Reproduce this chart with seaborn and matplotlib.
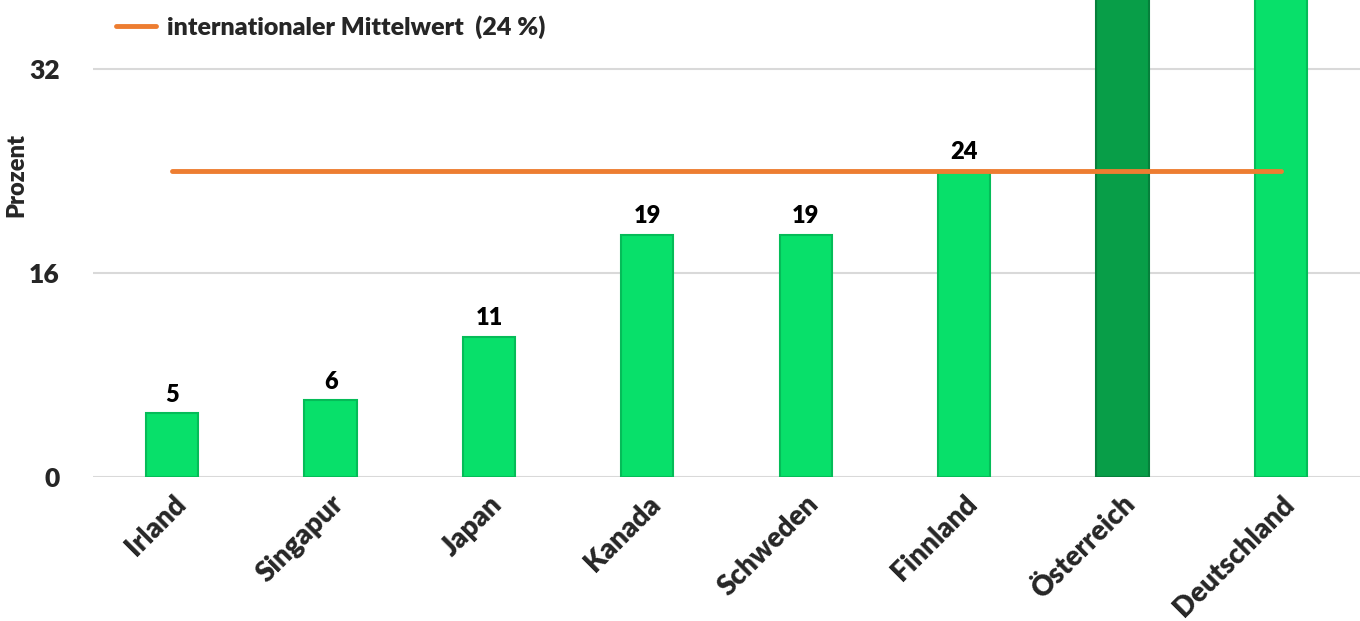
import numpy as np
import pandas as pd
import seaborn as sns
import matplotlib.pyplot as plt

# data
countries = ["Irland", "Singapur", "Japan", "Kanada", "Schweden", "Finnland", "Österreich", "Deutschland"]
values = [5, 6, 11, 19, 19, 24, 44, 47]   # last two run off the top of the chart
mean_value = 24
mean_label = "internationaler Mittelwert  (24 %)"
yticks = [0, 16, 32]

df = pd.DataFrame({"land": countries, "prozent": values})

sns.set_theme(style="white")
plt.rcParams["font.family"] = ["Lato", "DejaVu Sans"]
plt.rcParams["font.weight"] = "heavy"

fig = plt.figure(figsize=(13.6, 6.21), dpi=100)
ax = fig.add_axes([0.0684, 0.2319, 0.9316, 0.7681])

palette = ["#089E48" if c == "Österreich" else "#08E06A" for c in countries]
sns.barplot(data=df, x="land", y="prozent", hue="land", palette=palette,
            saturation=1, legend=False, width=0.33, edgecolor="#05BC58",
            linewidth=1.5, ax=ax, zorder=2)

for patch, c in zip(ax.patches, countries):
    if c == "Österreich":
        patch.set_edgecolor("#06803B")

ymax = 37.4
ax.set_ylim(0, ymax)
ax.set_xlim(-0.5, len(countries) - 0.5)

# value labels for visible bars
for i, v in enumerate(values):
    if v < ymax - 2:
        ax.text(i, v + 0.6, str(v), ha="center", va="bottom",
                fontsize=17, fontweight="heavy", color="black")

# international mean line
xs = np.arange(len(countries))
ax.plot(xs, [mean_value] * len(xs), color="#ED7D31", linewidth=3.5,
        solid_capstyle="round", zorder=3, label=mean_label)

ax.set_yticks(yticks)
ax.set_yticklabels([str(t) for t in yticks], fontsize=19, fontweight="heavy")
ax.set_xticks(xs)
ax.set_xticklabels(countries, rotation=45, ha="right", rotation_mode="anchor",
                   fontsize=20, fontweight="heavy")
ax.tick_params(axis="x", pad=10, length=0)
ax.tick_params(axis="y", pad=24, length=0)
ax.grid(axis="y", color="#D9D9D9", linewidth=1.5, zorder=0)
ax.set_axisbelow(True)
for s in ax.spines.values():
    s.set_visible(False)

ax.set_xlabel("")
ax.set_ylabel("Prozent", fontsize=17, fontweight="heavy")
ax.yaxis.set_label_coords(-0.052, 0.633)

ax.legend(loc="upper left", bbox_to_anchor=(0.0, 1.015), frameon=False,
          handlelength=1.6, handletextpad=0.45,
          prop={"size": 18, "weight": "heavy"})

fig.savefig("out.png", dpi=100)
